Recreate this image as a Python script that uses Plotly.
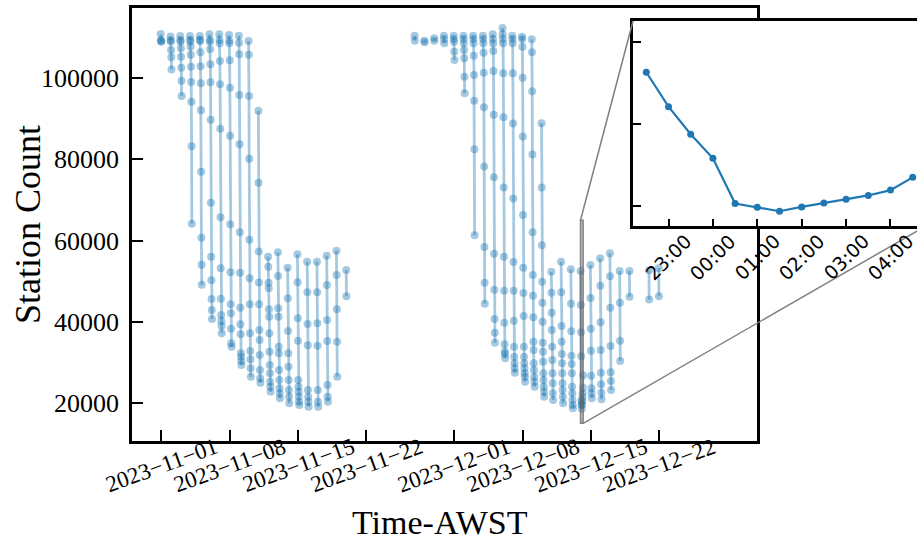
import pandas as pd
import plotly.graph_objects as go

# ---------------- data ----------------
# each night: sampling starts at 22:30 local (AWST) and continues every 30 min
night_starts = [
    "2023-10-31", "2023-11-01", "2023-11-02", "2023-11-03", "2023-11-04",
    "2023-11-05", "2023-11-06", "2023-11-07", "2023-11-08", "2023-11-09",
    "2023-11-10", "2023-11-11", "2023-11-12", "2023-11-13", "2023-11-14",
    "2023-11-15", "2023-11-16", "2023-11-17", "2023-11-18", "2023-11-19",
    "2023-11-26", "2023-11-27", "2023-11-28", "2023-11-29", "2023-11-30",
    "2023-12-01", "2023-12-02", "2023-12-03", "2023-12-04", "2023-12-05",
    "2023-12-06", "2023-12-07", "2023-12-08", "2023-12-09", "2023-12-10",
    "2023-12-11", "2023-12-12", "2023-12-13", "2023-12-14", "2023-12-15",
    "2023-12-16", "2023-12-17", "2023-12-18", "2023-12-20", "2023-12-21",
]
night_counts = [
    [110800, 109300, 109100, 108900],
    [110200, 109300, 109000, 106900, 105100, 102100],
    [110340, 109300, 109000, 107300, 105240, 102530, 99330, 95570],
    [110340, 109350, 109000, 107700, 105740, 102780, 99020, 94170, 83200, 64140],
    [110340, 109400, 109100, 106330, 102880, 98700, 92050, 76950, 60690, 54040, 49120],
    [110750, 109350, 108900, 107060, 103370, 98940, 89740, 69300, 56000, 50200, 45600, 42890, 40680],
    [110750, 109350, 108540, 104180, 98450, 87520, 65710, 53150, 45670, 41660, 40200, 38950, 37160],
    [110580, 109180, 108540, 104350, 97600, 85780, 63990, 52170, 44290, 42080, 38290, 34700, 33860],
    [110410, 108690, 105840, 95820, 83690, 62030, 52070, 43450, 39370, 36910, 32230, 31400, 30340, 29350],
    [109100, 105740, 95570, 80150, 60180, 50700, 44300, 37160, 32800, 30760, 28540, 26470],
    [91950, 74240, 57310, 49690, 44290, 37970, 35510, 31820, 28120, 26080, 25000],
    [56000, 53550, 49610, 48230, 43060, 41250, 37160, 32640, 29350, 27310, 25240, 24010, 22780],
    [57100, 51260, 43310, 41250, 33860, 32230, 28120, 25660, 23620, 22390, 21160],
    [53300, 45770, 37720, 32230, 28940, 25660, 23200, 21560, 19920],
    [56600, 49710, 40850, 35340, 25660, 24020, 22780, 21550, 20320, 19510],
    [54780, 47250, 39450, 34200, 23200, 21560, 20320, 19090],
    [54780, 47250, 39620, 34100, 23200, 20320, 19090],
    [56260, 49050, 40430, 35260, 24430, 21560, 20320],
    [57490, 51510, 43060, 35090, 26470],
    [52740, 46260],
    [110410, 109180],
    [109180, 108780],
    [109770, 109180],
    [110410, 109600, 108530],
    [110410, 109600, 108940, 106480, 104430],
    [110410, 109600, 108530, 106890, 104840, 100330, 96240],
    [110410, 109600, 108530, 105500, 100740, 94430, 82470, 61270],
    [110410, 109600, 108530, 106240, 101310, 92790, 78200, 58400, 49620, 44450],
    [110750, 109600, 108530, 106650, 101720, 90980, 75580, 56760, 47890, 40680, 37310, 34840],
    [112310, 110750, 109600, 108530, 101150, 90330, 73030, 56020, 47640, 39780, 34450, 32630, 32060, 31000],
    [110410, 109600, 108530, 101150, 88770, 70320, 54710, 47640, 40260, 33870, 31400, 29770, 28540, 27460],
    [110170, 109600, 107710, 100090, 85570, 66280, 53310, 47080, 41420, 33870, 31400, 29770, 28540, 27300, 26470, 25250],
    [109520, 106320, 96730, 81160, 62010, 51510, 46420, 41090, 35090, 33050, 29770, 28120, 26470, 25250, 24020],
    [88850, 73030, 58810, 49860, 44700, 40020, 34840, 32630, 30170, 27300, 25660, 24020, 22790, 21560],
    [52330, 47150, 42240, 37970, 33870, 30580, 27300, 24840, 22380, 20740],
    [54790, 47240, 38950, 35090, 32060, 29770, 27300, 24840, 23200, 21560, 19920],
    [52900, 44450, 37640, 31650, 29600, 27300, 24020, 22380, 20740, 19510, 18690],
    [52500, 44100, 37400, 31520, 20490, 19580, 18600, 19660, 20640, 21540, 22450, 23750, 26860],
    [53970, 45850, 38300, 32880, 26720, 23610, 22380, 21150],
    [55610, 48880, 39860, 33050, 27460, 24600, 22540, 20900],
    [56840, 51180, 43470, 34030, 27550, 25420, 23200],
    [52490, 44700, 35340, 30340],
    [52490, 46170],
    [52700, 45500],
    [53200, 46300],
]
SAMPLE_START = "22:30"
SAMPLE_STEP_MIN = 30

xtick_dates = ["2023-11-01", "2023-11-08", "2023-11-15", "2023-11-22",
               "2023-12-01", "2023-12-08", "2023-12-15", "2023-12-22"]
ytick_vals = [20000, 40000, 60000, 80000, 100000]
main_xrange = ["2023-10-29 00:00", "2024-01-01 00:00"]
main_yrange = [10650, 117230]

inset_window = ["2023-12-13 22:12", "2023-12-14 04:48"]
inset_yrange = [15000, 65000]
inset_xticks = ["2023-12-13 23:00", "2023-12-14 00:00", "2023-12-14 01:00",
                "2023-12-14 02:00", "2023-12-14 03:00", "2023-12-14 04:00"]
inset_yticks = [20000, 40000, 60000]

# ---------------- build series ----------------
times, counts = [], []
for day, vals in zip(night_starts, night_counts):
    t0 = pd.Timestamp(f"{day} {SAMPLE_START}")
    for i, v in enumerate(vals):
        times.append((t0 + pd.Timedelta(minutes=SAMPLE_STEP_MIN * i)).strftime("%Y-%m-%d %H:%M"))
        counts.append(v)
    times.append(None)
    counts.append(None)

W, H = 917, 541
# main axes box in pixels
ML, MR, MT, MB = 132, 757, 8, 441
# inset box in pixels (right edge lies beyond the figure)
IL, IR_FULL, IT, IB = 633, 926, 21, 226

main_xdom = [ML / W, MR / W]
main_ydom = [(H - MB) / H, (H - MT) / H]
ins_xdom = [IL / W, 1.0]
ins_ydom = [(H - IB) / H, (H - IT) / H]

iw0, iw1 = pd.Timestamp(inset_window[0]), pd.Timestamp(inset_window[1])
ins_xrange_end = iw0 + (iw1 - iw0) * ((W - IL) / (IR_FULL - IL))

BLUE = "#1f77b4"
fig = go.Figure()
fig.add_trace(go.Scatter(
    x=times, y=counts, mode="lines+markers",
    line=dict(color="rgba(31,119,180,0.4)", width=2.8),
    marker=dict(color="rgba(31,119,180,0.4)", size=8, line=dict(width=0)),
    connectgaps=False, showlegend=False, xaxis="x", yaxis="y",
))
fig.add_trace(go.Scatter(
    x=times, y=counts, mode="lines+markers",
    line=dict(color=BLUE, width=2.2),
    marker=dict(color=BLUE, size=7, line=dict(width=0)),
    connectgaps=False, showlegend=False, xaxis="x2", yaxis="y2",
))

SERIF = "Liberation Serif"
axis_common = dict(showgrid=False, zeroline=False, showline=True, linecolor="black",
                   linewidth=2.6, ticks="inside", tickcolor="black", tickwidth=1.6)

fig.update_layout(
    width=W, height=H, margin=dict(l=0, r=0, t=0, b=0),
    paper_bgcolor="white", plot_bgcolor="white",
    xaxis=dict(domain=main_xdom, range=main_xrange, type="date", tickvals=xtick_dates,
               showticklabels=False, ticklen=11, mirror=True, anchor="y", **axis_common),
    yaxis=dict(domain=main_ydom, range=main_yrange, tickvals=ytick_vals,
               ticktext=[str(v) for v in ytick_vals], ticklen=11, mirror=True, anchor="x",
               tickfont=dict(family=SERIF, size=26, color="black"), ticklabelstandoff=5,
               **axis_common),
    xaxis2=dict(domain=ins_xdom, range=[iw0.strftime("%Y-%m-%d %H:%M:%S"),
                                         ins_xrange_end.strftime("%Y-%m-%d %H:%M:%S")],
                type="date", tickvals=inset_xticks, showticklabels=False, ticklen=7,
                mirror=True, anchor="y2", **axis_common),
    yaxis2=dict(domain=ins_ydom, range=inset_yrange, tickvals=inset_yticks,
                showticklabels=False, ticklen=8, mirror=False, anchor="x2", **axis_common),
)


def to_paper(t, v):
    t = pd.Timestamp(t)
    r0, r1 = pd.Timestamp(main_xrange[0]), pd.Timestamp(main_xrange[1])
    px = main_xdom[0] + (t - r0) / (r1 - r0) * (main_xdom[1] - main_xdom[0])
    py = main_ydom[0] + (v - main_yrange[0]) / (main_yrange[1] - main_yrange[0]) * (main_ydom[1] - main_ydom[0])
    return px, py


# inset indicator rectangle and connectors
fig.add_shape(type="rect", xref="x", yref="y", x0=inset_window[0], x1=inset_window[1],
              y0=inset_yrange[0], y1=inset_yrange[1],
              line=dict(color="rgba(100,100,100,0.75)", width=1.5),
              fillcolor="rgba(90,90,90,0.35)")
p_tl = to_paper(inset_window[0], inset_yrange[1])
p_br = to_paper(inset_window[1], inset_yrange[0])
fig.add_shape(type="line", xref="paper", yref="paper", x0=p_tl[0], y0=p_tl[1],
              x1=IL / W, y1=(H - IT) / H, line=dict(color="rgb(128,128,128)", width=1.5))
fig.add_shape(type="line", xref="paper", yref="paper", x0=p_br[0], y0=p_br[1],
              x1=IR_FULL / W, y1=(H - IB) / H, line=dict(color="rgb(128,128,128)", width=1.5))

# tick labels (centred, rotated like matplotlib)
for d in xtick_dates:
    fig.add_annotation(x=d, xref="x", y=(H - 465) / H, yref="paper", showarrow=False,
                       xanchor="center", yanchor="middle",
                       text=pd.Timestamp(d).strftime("%Y-%m-%d").replace("-", "\u2212"),
                       textangle=-20, font=dict(family=SERIF, size=23, color="black"))
for t in inset_xticks:
    fig.add_annotation(x=t, xref="x2", y=(H - 257) / H, yref="paper", showarrow=False,
                       xanchor="center", yanchor="middle",
                       text=pd.Timestamp(t).strftime("%H:%M"), textangle=-45,
                       font=dict(family="DejaVu Sans", size=19, color="black"))

fig.add_annotation(x=28 / W, y=(H - 225) / H, xref="paper", yref="paper", showarrow=False,
                   xanchor="center", yanchor="middle",
                   text="Station Count", textangle=-90,
                   font=dict(family=SERIF, size=36, color="black"))
fig.add_annotation(x=440 / W, y=(H - 522) / H, xref="paper", yref="paper", showarrow=False,
                   xanchor="center", yanchor="middle",
                   text="Time-AWST", font=dict(family=SERIF, size=34, color="black"))

fig.write_html("out.html", config={"displayModeBar": False},
               post_script="document.body.style.margin='0px';")
